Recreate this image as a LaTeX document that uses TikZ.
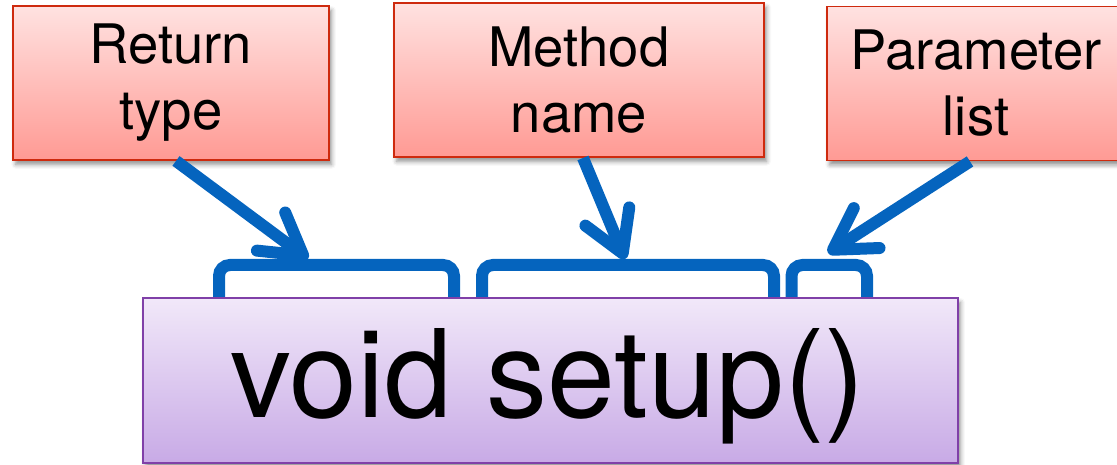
\documentclass[tikz,border=0pt]{standalone}
\usepackage{fontspec}
\setmainfont{TeX Gyre Heros}
\usetikzlibrary{arrows.meta,shadows.blur,calc}
\definecolor{redtop}{RGB}{255,226,225}
\definecolor{redbot}{RGB}{255,154,148}
\definecolor{redborder}{RGB}{206,42,14}
\definecolor{purtop}{RGB}{241,232,249}
\definecolor{purbot}{RGB}{200,170,230}
\definecolor{purborder}{RGB}{128,64,168}
\definecolor{arrowblue}{RGB}{5,100,190}
\pgfdeclarelayer{background}
\pgfsetlayers{background,main}
\begin{document}
\begin{tikzpicture}[x=0.02cm,y=-0.02cm,
  labelbox/.style={draw=redborder, line width=1.1pt, top color=redtop, bottom color=redbot,
    minimum height=3.08cm, align=center, inner sep=0pt,
    font=\fontsize{31pt}{37.6pt}\selectfont,
    blur shadow={shadow xshift=1.5pt, shadow yshift=-2.5pt, shadow blur radius=2.5pt, shadow opacity=45}},
  codebox/.style={draw=purborder, line width=1.1pt, top color=purtop, bottom color=purbot,
    inner sep=0pt,
    blur shadow={shadow xshift=1.5pt, shadow yshift=-2.5pt, shadow blur radius=2.5pt, shadow opacity=45}},
  codetext/.style={inner sep=0pt, font=\fontsize{69.5pt}{80pt}\selectfont},
  bracket/.style={draw=arrowblue, line width=0.24cm, rounded corners=0.22cm},
  pointer/.style={draw=arrowblue, line width=0.24cm,
    -{Straight Barb[length=0.8cm, width=0.95cm, round]}}]
\useasboundingbox (0,0) rectangle (1117,465);

\node[labelbox, minimum width=6.32cm] (ret) at (171,83) {Return\\type};
\node[labelbox, minimum width=7.4cm] (meth) at (579,80) {Method\\name};
\node[labelbox, minimum width=5.96cm] (par) at (976,83.5) {Parameter\\list};

\node[codebox, minimum width=16.3cm, minimum height=3.3cm] (code) at (550.5,380.5) {};
\node[codetext] (codetxt) at (548,386.5) {void setup()};

\coordinate (tip1) at (308,259);
\coordinate (tip2) at (625,259);
\coordinate (tip3) at (828,253);

\begin{pgfonlayer}{background}
  \draw[bracket] (219,0 |- code.north) -- (219,265) -- (454,265) -- (454,0 |- code.north);
  \draw[bracket] (482,0 |- code.north) -- (482,265) -- (774,265) -- (774,0 |- code.north);
  \draw[bracket] (791.5,0 |- code.north) -- (791.5,265) -- (867,265) -- (867,0 |- code.north);
\end{pgfonlayer}

\draw[pointer] ([xshift=0.1cm]ret.south) -- (tip1);
\draw[pointer] ([xshift=0.08cm]meth.south) -- (tip2);
\draw[pointer] ([xshift=-0.12cm]par.south) -- (tip3);
\end{tikzpicture}
\end{document}
